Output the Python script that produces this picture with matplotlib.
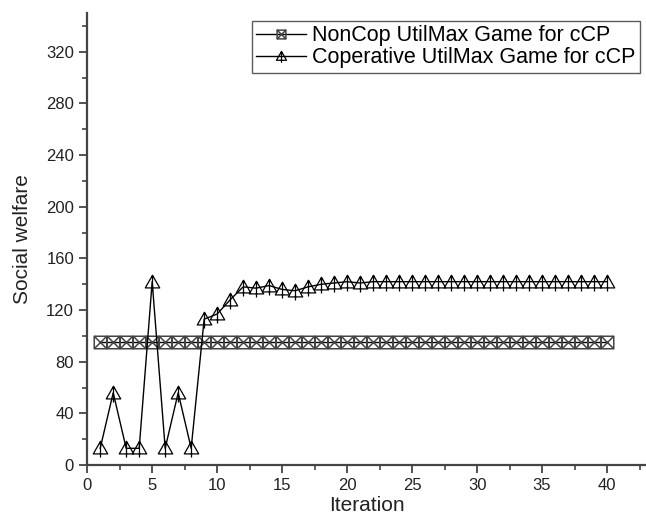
import matplotlib
matplotlib.use('Agg')
import matplotlib.pyplot as plt
from matplotlib.path import Path
from matplotlib.ticker import MultipleLocator

# Data
iterations = list(range(1, 41))
noncop_welfare = [95] * 40
coop_welfare = [13, 56, 13, 13, 142, 13, 56, 13, 113, 117,
                128, 138, 137, 139, 136, 135, 138, 140, 141, 142,
                141, 142, 142, 142, 142, 142, 142, 142, 142, 142,
                142, 142, 142, 142, 142, 142, 142, 142, 142, 142]

series_labels = ['NonCop UtilMax Game for cCP', 'Coperative UtilMax Game for cCP']

plt.rcParams['font.family'] = ['Liberation Sans', 'DejaVu Sans']

# Square with an X inside
box_x = Path(
    [(-1, -1), (1, -1), (1, 1), (-1, 1), (-1, -1),
     (-1, -1), (1, 1), (-1, 1), (1, -1)],
    [Path.MOVETO, Path.LINETO, Path.LINETO, Path.LINETO, Path.CLOSEPOLY,
     Path.MOVETO, Path.LINETO, Path.MOVETO, Path.LINETO])

# Open triangle with a vertical stroke through it
tri_bar = Path(
    [(-1, -0.75), (1, -0.75), (0, 1), (-1, -0.75),
     (0, 1), (0, -1.25)],
    [Path.MOVETO, Path.LINETO, Path.LINETO, Path.CLOSEPOLY,
     Path.MOVETO, Path.LINETO])

fig = plt.figure(figsize=(6.46, 5.22), dpi=100)
ax = fig.add_axes([0.135, 0.109, 0.865, 0.866])

ax.plot(iterations, noncop_welfare, color='black', lw=1.0,
        marker=box_x, markersize=9, markerfacecolor='none',
        markeredgecolor='#444444', markeredgewidth=1.1, label=series_labels[0])
ax.plot(iterations, coop_welfare, color='black', lw=1.0,
        marker=tri_bar, markersize=13, markerfacecolor='none',
        markeredgecolor='black', markeredgewidth=0.9, label=series_labels[1])

ax.set_xlim(0, 43)
ax.set_ylim(0, 350)
ax.xaxis.set_major_locator(MultipleLocator(5))
ax.xaxis.set_minor_locator(MultipleLocator(2.5))
ax.yaxis.set_major_locator(MultipleLocator(40))
ax.yaxis.set_minor_locator(MultipleLocator(20))

for side in ['top', 'right']:
    ax.spines[side].set_visible(False)
for side in ['left', 'bottom']:
    ax.spines[side].set_color('#444444')
    ax.spines[side].set_linewidth(1.6)

ax.tick_params(which='major', direction='out', length=6, width=1.3,
               color='#444444', labelsize=12, labelcolor='#222222')
ax.tick_params(which='minor', direction='out', length=3.5, width=1.2, color='#444444')

ax.set_xlabel('Iteration', fontsize=15, color='#222222', labelpad=2)
ax.set_ylabel('Social welfare', fontsize=15, color='#222222', labelpad=10)

leg = ax.legend(loc='upper right', bbox_to_anchor=(640 / 646, 1 - 21 / 522),
                bbox_transform=fig.transFigure, fontsize=15.5, frameon=True,
                fancybox=False, handlelength=2.3, handletextpad=0.3,
                borderpad=0.2, labelspacing=0.05, borderaxespad=0,
                markerscale=0.7)
leg.get_frame().set_edgecolor('#333333')
leg.get_frame().set_linewidth(1.0)

plt.savefig('out.png', dpi=100)
plt.close()
